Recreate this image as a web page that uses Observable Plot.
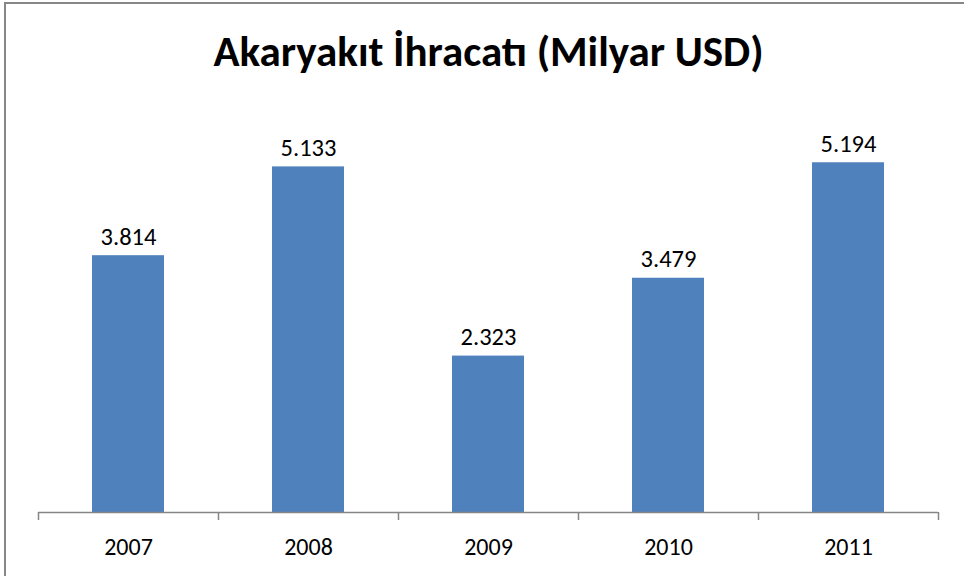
<!DOCTYPE html>
<html>
<head>
<meta charset="utf-8">
<script src="https://cdn.jsdelivr.net/npm/d3@7"></script>
<script src="https://cdn.jsdelivr.net/npm/@observablehq/plot@0.6"></script>
<style>
  html, body { margin: 0; padding: 0; background: #fff; overflow: hidden; }
  #wrap { position: relative; width: 964px; height: 576px; }
  #border { position: absolute; left: 4px; top: 2px; width: 1100px; height: 1100px; border: 2px solid #878787; pointer-events: none; }
</style>
</head>
<body>
<div id="wrap"><div id="border"></div></div>
<script>
const title = "Akaryakıt İhracatı (Milyar USD)";
const years = [2007, 2008, 2009, 2010, 2011];
const values = [3.814, 5.133, 2.323, 3.479, 5.194];
const labels = ["3.814", "5.133", "2.323", "3.479", "5.194"];
const boundaries = [2006.5, 2007.5, 2008.5, 2009.5, 2010.5, 2011.5];

const data = years.map((y, i) => ({year: y, value: values[i], label: labels[i]}));
const font = "Carlito, Calibri, Lato, sans-serif";

const chart = Plot.plot({
  width: 964,
  height: 576,
  marginLeft: 38,
  marginRight: 26,
  marginTop: 108,
  marginBottom: 64,
  style: {fontFamily: font, background: "transparent"},
  x: {domain: [2006.5, 2011.5], axis: null},
  y: {domain: [0, 6], axis: null},
  marks: [
    Plot.rectY(data, {x1: d => d.year - 0.2, x2: d => d.year + 0.2, y: "value", fill: "#4F81BD"}),
    Plot.ruleY([0], {stroke: "#868686", strokeWidth: 1.5}),
    Plot.axisX({ticks: boundaries, tickSize: 8, tickFormat: () => "", label: null, stroke: "#868686", strokeWidth: 1.5, strokeOpacity: 1}),
    Plot.axisX({ticks: years, tickSize: 0, tickPadding: 25, tickFormat: d => String(d), label: null, fontSize: 24, fill: "#000"}),
    Plot.text(data, {x: "year", y: "value", text: "label", lineAnchor: "bottom", dy: -11, fontSize: 24.5, fill: "#000"}),
    Plot.text([title], {frameAnchor: "top", dy: -56, lineAnchor: "middle", fontSize: 43, fontWeight: "bold", fill: "#000"})
  ]
});
chart.style.position = "absolute";
chart.style.left = "0";
chart.style.top = "0";
document.getElementById("wrap").appendChild(chart);
</script>
</body>
</html>
